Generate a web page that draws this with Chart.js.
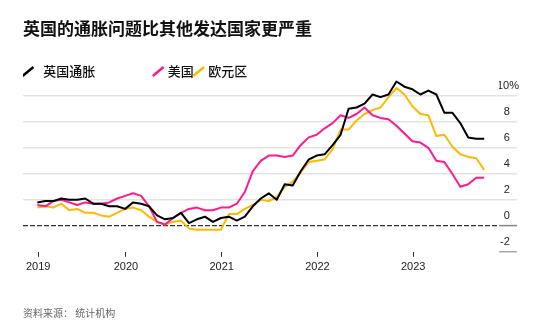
<!DOCTYPE html>
<html>
<head>
<meta charset="utf-8">
<script src="https://cdn.jsdelivr.net/npm/chart.js@4.4.0/dist/chart.umd.min.js"></script>
<style>
  html, body { margin: 0; padding: 0; background: #fff; }
</style>
</head>
<body>
<canvas id="chart" width="537" height="332"></canvas>
<script>
// monthly CPI, % y/y, Jan 2019 (index 0) .. Sep 2023 (index 56)
const ukCpi = [
  1.8, 1.9, 1.9, 2.1, 2.0, 2.0, 2.1, 1.7, 1.7, 1.5, 1.5, 1.3,
  1.8, 1.7, 1.5, 0.8, 0.5, 0.6, 1.0, 0.2, 0.5, 0.7, 0.3, 0.6,
  0.7, 0.4, 0.7, 1.5, 2.1, 2.5, 2.0, 3.2, 3.1, 4.2, 5.1, 5.4,
  5.5, 6.2, 7.0, 9.0, 9.1, 9.4, 10.1, 9.9, 10.1, 11.1, 10.7, 10.5,
  10.1, 10.4, 10.1, 8.7, 8.7, 7.9, 6.8, 6.7, 6.7
];
const usCpi = [
  1.6, 1.5, 1.9, 2.0, 1.8, 1.6, 1.8, 1.7, 1.7, 1.8, 2.1, 2.3,
  2.5, 2.3, 1.5, 0.3, 0.1, 0.6, 1.0, 1.3, 1.4, 1.2, 1.2, 1.4,
  1.4, 1.7, 2.6, 4.2, 5.0, 5.4, 5.4, 5.3, 5.4, 6.2, 6.8, 7.0,
  7.5, 7.9, 8.5, 8.3, 8.6, 9.1, 8.5, 8.3, 8.2, 7.7, 7.1, 6.5,
  6.4, 6.0, 5.0, 4.9, 4.0, 3.0, 3.2, 3.7, 3.7
];
const euroCpi = [
  1.4, 1.5, 1.4, 1.7, 1.2, 1.3, 1.0, 1.0, 0.8, 0.7, 1.0, 1.3,
  1.4, 1.2, 0.7, 0.3, 0.1, 0.3, 0.4, -0.2, -0.3, -0.3, -0.3, -0.3,
  0.9, 0.9, 1.3, 1.6, 2.0, 1.9, 2.2, 3.0, 3.4, 4.1, 4.9, 5.0,
  5.1, 5.9, 7.4, 7.4, 8.1, 8.6, 8.9, 9.1, 9.9, 10.6, 10.1, 9.2,
  8.6, 8.5, 6.9, 7.0, 6.1, 5.5, 5.3, 5.2, 4.3
];

const seriesNames = ['英国通胀', '美国', '欧元区'];
const seriesColors = ['#000000', '#ff1a8c', '#ffb800'];

const yearTicks = [0.1, 11.1, 23.1, 35.1, 47.1];   // month index of each year tick
const yearLabels = ['2019', '2020', '2021', '2022', '2023'];
const yTicks = [-2, 0, 2, 4, 6, 8, 10];

const cjk = "'Noto Sans CJK SC', sans-serif";
const latin = "'Liberation Sans', Arial, sans-serif";

const toPoints = arr => arr.map((v, i) => ({ x: i, y: v }));

new Chart(document.getElementById('chart'), {
  type: 'line',
  data: {
    datasets: [ukCpi, usCpi, euroCpi].map((arr, i) => ({
      label: seriesNames[i],
      data: toPoints(arr),
      borderColor: seriesColors[i],
      backgroundColor: seriesColors[i],
      borderWidth: 2,
      pointRadius: 0,
      pointHoverRadius: 0,
      tension: 0,
      borderJoinStyle: 'round',
      clip: false
    }))
  },
  options: {
    responsive: false,
    animation: false,
    events: [],
    layout: { padding: { left: 23, right: 18, top: 0, bottom: 0 } },
    plugins: {
      title: {
        display: true,
        text: '英国的通胀问题比其他发达国家更严重',
        align: 'start',
        color: '#111',
        font: { family: cjk, size: 17, weight: 'bold' },
        padding: { top: 18, bottom: 24.6 }
      },
      subtitle: {
        display: true,
        position: 'bottom',
        text: '资料来源： 统计机构',
        align: 'start',
        color: '#666',
        font: { family: cjk, size: 10 },
        padding: { top: 29, bottom: 13 }
      },
      legend: {
        display: true,
        position: 'top',
        align: 'start',
        labels: {
          usePointStyle: true,
          boxWidth: 6,
          boxHeight: 10,
          padding: 2,
          color: '#111',
          font: { family: cjk, size: 13, weight: '500' },
          generateLabels: chart => chart.data.datasets.map((ds, i) => ({
            text: i === 0 ? '  ' + ds.label + '\u3000\u3000\u3000\u3000  ' : ds.label,
            strokeStyle: ds.borderColor,
            fillStyle: ds.borderColor,
            fontColor: '#111',
            lineWidth: 2.5,
            pointStyle: 'line',
            rotation: -40,
            datasetIndex: i,
            hidden: false
          }))
        }
      },
      tooltip: { enabled: false }
    },
    scales: {
      x: {
        type: 'linear',
        min: -1.8,
        max: 57.85,
        afterBuildTicks: scale => { scale.ticks = yearTicks.map(v => ({ value: v })); },
        ticks: {
          autoSkip: false,
          maxRotation: 0,
          padding: 4,
          color: '#222',
          font: { family: latin, size: 11 },
          callback: (v, i) => yearLabels[i]
        },
        grid: { drawOnChartArea: false, tickLength: 5, tickColor: '#333', tickWidth: 1 },
        border: { display: false }
      },
      y: {
        position: 'right',
        min: -2,
        max: 10.6,
        afterBuildTicks: scale => { scale.ticks = yTicks.map(v => ({ value: v })); },
        ticks: {
          crossAlign: 'far',
          labelOffset: -10,
          padding: -10,
          color: '#222',
          font: { family: latin, size: 11 },
          callback: v => v === 10 ? '10%' : v + '   '
        },
        grid: {
          color: ctx => ctx.tick.value === 0 ? '#333' : (ctx.tick.value === -2 ? 'rgba(0,0,0,0)' : '#e3e3e3'),
          lineWidth: ctx => ctx.tick.value === 0 ? 1.2 : 1.5,
          tickLength: 18,
          tickColor: ctx => ctx.tick.value === 0 ? '#888' : (ctx.tick.value === -2 ? '#aaa' : '#e3e3e3'),
          tickWidth: 1.5
        },
        border: { display: false, dash: ctx => ctx.tick && ctx.tick.value === 0 ? [5, 2] : [] }
      }
    }
  }
});
</script>
</body>
</html>
